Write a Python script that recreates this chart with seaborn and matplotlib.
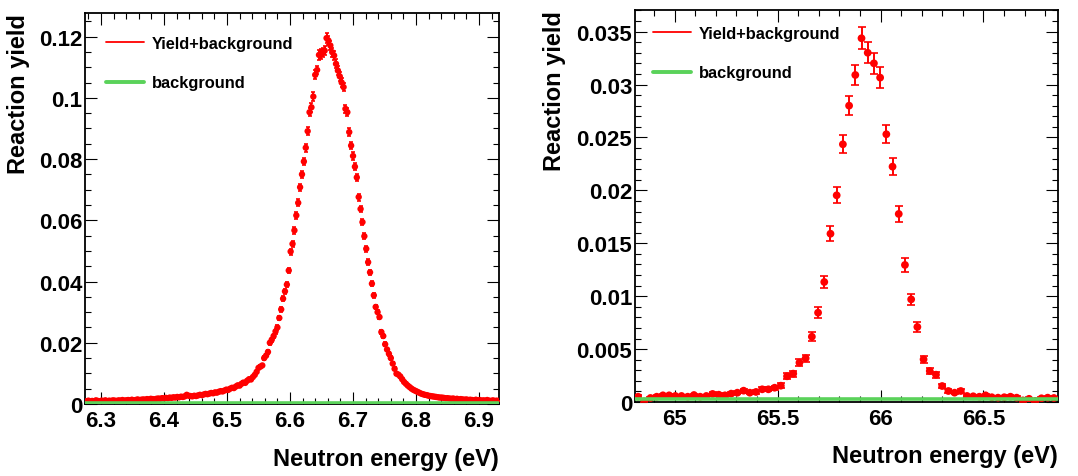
import numpy as np
import pandas as pd
import matplotlib
matplotlib.use("Agg")
import matplotlib.pyplot as plt
from matplotlib.ticker import FixedLocator, MultipleLocator
from matplotlib.lines import Line2D
import seaborn as sns

# ---------------- data: left resonance (~6.67 eV) ----------------
left_e0 = 6.277      # first bin centre (eV)
left_de = 0.003      # bin width (eV)
left_y = [
    0.0009, 0.0011, 0.0008, 0.0010, 0.0009, 0.0012, 0.0010, 0.0009, 0.0011, 0.0010,
    0.0012, 0.0009, 0.0011, 0.0010, 0.0012, 0.0011, 0.0010, 0.0012, 0.0011, 0.0013,
    0.0011, 0.0012, 0.0013, 0.0012, 0.0014, 0.0012, 0.0013, 0.0015, 0.0013, 0.0014,
    0.0015, 0.0014, 0.0016, 0.0015, 0.0017, 0.0016, 0.0015, 0.0017, 0.0018, 0.0017,
    0.0019, 0.0018, 0.0020, 0.0019, 0.0021, 0.0020, 0.0022, 0.0021, 0.0023, 0.0022,
    0.0024, 0.0023, 0.0025, 0.0030, 0.0027, 0.0026, 0.0025, 0.0027, 0.0026, 0.0028,
    0.0030, 0.0029, 0.0031, 0.0033, 0.0032, 0.0034, 0.0036, 0.0035, 0.0038, 0.0037,
    0.0040, 0.0042, 0.0041, 0.0044, 0.0047, 0.0046, 0.0050, 0.0053, 0.0052, 0.0057,
    0.0061, 0.0060, 0.0066, 0.0070, 0.0069, 0.0076, 0.0081, 0.0080, 0.0088, 0.0095,
    0.0105, 0.0118, 0.0122, 0.0126, 0.0150, 0.0158, 0.0170, 0.0200, 0.0210, 0.0222,
    0.0237, 0.0250, 0.0281, 0.0309, 0.0344, 0.0368, 0.0390, 0.0436, 0.0498, 0.0523,
    0.0567, 0.0616, 0.0657, 0.0708, 0.0750, 0.0792, 0.0837, 0.0891, 0.0953, 0.0969,
    0.1004, 0.1075, 0.1091, 0.1140, 0.1143, 0.1148, 0.1154, 0.1195, 0.1187, 0.1171,
    0.1149, 0.1138, 0.1111, 0.1089, 0.1070, 0.1050, 0.1035, 0.0964, 0.0953, 0.0888,
    0.0844, 0.0810, 0.0775, 0.0740, 0.0676, 0.0637, 0.0594, 0.0548, 0.0507, 0.0463,
    0.0430, 0.0393, 0.0355, 0.0317, 0.0300, 0.0284, 0.0235, 0.0222, 0.0195, 0.0178,
    0.0164, 0.0150, 0.0132, 0.0115, 0.0099, 0.0096, 0.0090, 0.0081, 0.0072, 0.0066,
    0.0060, 0.0055, 0.0050, 0.0046, 0.0043, 0.0040, 0.0037, 0.0034, 0.0032, 0.0030,
    0.0029, 0.0027, 0.0026, 0.0025, 0.0024, 0.0023, 0.0022, 0.0021, 0.0021, 0.0020,
    0.0019, 0.0019, 0.0018, 0.0017, 0.0018, 0.0016, 0.0017, 0.0015, 0.0016, 0.0015,
    0.0014, 0.0015, 0.0013, 0.0014, 0.0013, 0.0012, 0.0014, 0.0012, 0.0013, 0.0011,
    0.0012, 0.0011, 0.0013, 0.0011, 0.0010, 0.0012, 0.0010, 0.0011, 0.0010,
]
left_err = [
    0.00014, 0.00015, 0.00013, 0.00014, 0.00013, 0.00015, 0.00014, 0.00013, 0.00015, 0.00014,
    0.00015, 0.00013, 0.00015, 0.00014, 0.00015, 0.00015, 0.00014, 0.00015, 0.00015, 0.00016,
    0.00015, 0.00015, 0.00016, 0.00015, 0.00016, 0.00015, 0.00016, 0.00017, 0.00016, 0.00016,
    0.00017, 0.00016, 0.00018, 0.00017, 0.00018, 0.00018, 0.00017, 0.00018, 0.00019, 0.00018,
    0.00019, 0.00019, 0.00020, 0.00019, 0.00020, 0.00020, 0.00021, 0.00020, 0.00021, 0.00021,
    0.00022, 0.00021, 0.00022, 0.00024, 0.00023, 0.00022, 0.00022, 0.00023, 0.00022, 0.00023,
    0.00024, 0.00024, 0.00025, 0.00025, 0.00025, 0.00026, 0.00026, 0.00026, 0.00027, 0.00027,
    0.00028, 0.00029, 0.00028, 0.00029, 0.00030, 0.00030, 0.00031, 0.00032, 0.00032, 0.00033,
    0.00034, 0.00034, 0.00036, 0.00037, 0.00037, 0.00038, 0.00040, 0.00039, 0.00041, 0.00043,
    0.00045, 0.00048, 0.00049, 0.00049, 0.00054, 0.00055, 0.00057, 0.00062, 0.00064, 0.00066,
    0.00068, 0.00070, 0.00074, 0.00077, 0.00082, 0.00084, 0.00087, 0.00092, 0.00098, 0.00100,
    0.00105, 0.00109, 0.00113, 0.00117, 0.00120, 0.00124, 0.00127, 0.00131, 0.00136, 0.00137,
    0.00139, 0.00144, 0.00145, 0.00149, 0.00149, 0.00149, 0.00150, 0.00152, 0.00152, 0.00151,
    0.00149, 0.00148, 0.00147, 0.00145, 0.00144, 0.00143, 0.00142, 0.00137, 0.00136, 0.00131,
    0.00128, 0.00125, 0.00122, 0.00120, 0.00114, 0.00111, 0.00107, 0.00103, 0.00099, 0.00095,
    0.00091, 0.00087, 0.00083, 0.00078, 0.00076, 0.00074, 0.00067, 0.00066, 0.00061, 0.00059,
    0.00056, 0.00054, 0.00051, 0.00047, 0.00044, 0.00043, 0.00042, 0.00040, 0.00037, 0.00036,
    0.00034, 0.00033, 0.00031, 0.00030, 0.00029, 0.00028, 0.00027, 0.00026, 0.00025, 0.00024,
    0.00024, 0.00023, 0.00022, 0.00022, 0.00022, 0.00021, 0.00021, 0.00020, 0.00020, 0.00020,
    0.00019, 0.00019, 0.00019, 0.00018, 0.00019, 0.00018, 0.00018, 0.00017, 0.00018, 0.00017,
    0.00016, 0.00017, 0.00016, 0.00016, 0.00016, 0.00015, 0.00016, 0.00015, 0.00016, 0.00015,
    0.00015, 0.00015, 0.00016, 0.00015, 0.00014, 0.00015, 0.00014, 0.00015, 0.00014,
]
left_bg_x = [6.2746, 6.9317]
left_bg_y = [0.0003, 0.0003]
left_xlim = (6.2746, 6.9317)
left_ylim = (0.0, 0.1277)
left_xticks = [6.3, 6.4, 6.5, 6.6, 6.7, 6.8, 6.9]
left_xticklabels = ["6.3", "6.4", "6.5", "6.6", "6.7", "6.8", "6.9"]
left_yticks = [0.0, 0.02, 0.04, 0.06, 0.08, 0.10, 0.12]
left_yticklabels = ["0", "0.02", "0.04", "0.06", "0.08", "0.1", "0.12"]

# ---------------- data: right resonance (~65.9 eV) ----------------
right_e0 = 64.822
right_de = 0.03015
right_y = [
    0.00050, 0.00005, 0.00038, 0.00050, 0.00063, 0.00063, 0.00057, 0.00057, 0.00050, 0.00066,
    0.00050, 0.00057, 0.00076, 0.00069, 0.00063, 0.00079, 0.00088, 0.00107, 0.00088, 0.00095,
    0.00120, 0.00120, 0.00135, 0.00154, 0.00243, 0.00268, 0.00372, 0.00413, 0.00617, 0.00844,
    0.01134, 0.01590, 0.01953, 0.02435, 0.02800, 0.03090, 0.03437, 0.03300, 0.03200, 0.03065,
    0.02530, 0.02224, 0.01777, 0.01295, 0.00970, 0.00709, 0.00403, 0.00293, 0.00258, 0.00151,
    0.00104, 0.00088, 0.00104, 0.00057, 0.00054, 0.00050, 0.00063, 0.00045, 0.00041, 0.00045,
    0.00050, 0.00041, 0.00015, 0.00030, 0.00010, 0.00035, 0.00041, 0.00038,
]
right_err = [
    0.00012, 0.00012, 0.00011, 0.00012, 0.00014, 0.00014, 0.00013, 0.00013, 0.00012, 0.00014,
    0.00012, 0.00013, 0.00015, 0.00014, 0.00014, 0.00015, 0.00016, 0.00018, 0.00016, 0.00017,
    0.00019, 0.00019, 0.00020, 0.00022, 0.00027, 0.00028, 0.00034, 0.00035, 0.00043, 0.00050,
    0.00059, 0.00069, 0.00077, 0.00086, 0.00092, 0.00097, 0.00102, 0.00100, 0.00098, 0.00096,
    0.00087, 0.00082, 0.00073, 0.00063, 0.00054, 0.00046, 0.00035, 0.00030, 0.00028, 0.00021,
    0.00018, 0.00016, 0.00018, 0.00013, 0.00013, 0.00012, 0.00014, 0.00012, 0.00011, 0.00012,
    0.00012, 0.00011, 0.00020, 0.00011, 0.00020, 0.00011, 0.00011, 0.00011,
]
right_bg_x = [64.807, 66.862]
right_bg_y = [0.00025, 0.00025]
right_xlim = (64.807, 66.862)
right_ylim = (0.0, 0.03704)
right_xticks = [65.0, 65.5, 66.0, 66.5]
right_xticklabels = ["65", "65.5", "66", "66.5"]
right_yticks = [0.0, 0.005, 0.01, 0.015, 0.02, 0.025, 0.03, 0.035]
right_yticklabels = ["0", "0.005", "0.01", "0.015", "0.02", "0.025", "0.03", "0.035"]

legend_labels = ["Yield+background", "background"]
x_title = "Neutron energy (eV)"
y_title = "Reaction yield"

# ---------------- style ----------------
sns.set_theme(style="white")
plt.rcParams["font.family"] = ["Liberation Sans", "DejaVu Sans"]
plt.rcParams["font.weight"] = "bold"
plt.rcParams["axes.labelweight"] = "bold"
plt.rcParams["text.color"] = "black"
plt.rcParams["axes.labelcolor"] = "black"
plt.rcParams["xtick.color"] = "black"
plt.rcParams["ytick.color"] = "black"
plt.rcParams["xtick.labelcolor"] = "black"
plt.rcParams["ytick.labelcolor"] = "black"

RED = "#ff0000"
GREEN = "#5ad25a"

fig = plt.figure(figsize=(10.78, 4.77), dpi=100)
fig.patch.set_facecolor("white")
axL = fig.add_axes([85 / 1078, (477 - 405) / 477, 414 / 1078, 391 / 477])
axR = fig.add_axes([635 / 1078, (477 - 403) / 477, 423 / 1078, 392 / 477])


def panel(ax, e0, de, y, err, bgx, bgy, ms, cap, xlim, ylim, xt, xtl, yt, ytl,
          xminor, yminor, leg_anchor, ylab_x, xlab_y):
    n = len(y)
    x = e0 + de * np.arange(n)
    df = pd.DataFrame({"E": x, "Y": y, "err": err})
    ax.errorbar(df["E"], df["Y"], yerr=df["err"], fmt="none", ecolor=RED,
                elinewidth=1.4, capsize=cap, capthick=1.2, zorder=3)
    sns.scatterplot(data=df, x="E", y="Y", ax=ax, color=RED, s=ms ** 2,
                    edgecolor="none", linewidth=0, zorder=4, legend=False)
    bg = pd.DataFrame({"E": bgx, "B": bgy})
    sns.lineplot(data=bg, x="E", y="B", ax=ax, color=GREEN, lw=2.6,
                 zorder=5, legend=False)
    ax.set_xlim(*xlim)
    ax.set_ylim(*ylim)
    ax.xaxis.set_major_locator(FixedLocator(xt))
    ax.set_xticklabels(xtl)
    ax.yaxis.set_major_locator(FixedLocator(yt))
    ax.set_yticklabels(ytl)
    ax.xaxis.set_minor_locator(MultipleLocator(xminor))
    ax.yaxis.set_minor_locator(MultipleLocator(yminor))
    ax.tick_params(axis="both", which="both", direction="in", top=True,
                   right=True, bottom=True, left=True, color="black", width=0.8)
    ax.tick_params(axis="both", which="major", length=8.5, labelsize=16,
                   labelcolor="black")
    ax.tick_params(axis="both", which="minor", length=4.5)
    ax.tick_params(axis="x", which="major", pad=4.5)
    ax.tick_params(axis="y", which="major", pad=2.0)
    for lab in ax.get_xticklabels() + ax.get_yticklabels():
        lab.set_fontweight("bold")
        lab.set_color("black")
    for sp in ax.spines.values():
        sp.set_color("black")
        sp.set_linewidth(1.3)
        sp.set_visible(True)
    ax.set_xlabel(x_title, fontsize=17, fontweight="bold", loc="right", color="black")
    ax.xaxis.set_label_coords(1.0, xlab_y)
    ax.set_ylabel(y_title, fontsize=17, fontweight="bold", loc="top", color="black")
    ax.yaxis.set_label_coords(ylab_x, 1.0)
    handles = [Line2D([], [], color=RED, lw=1.3),
               Line2D([], [], color=GREEN, lw=2.8)]
    leg = ax.legend(handles, legend_labels, loc="upper left", bbox_to_anchor=leg_anchor,
                    frameon=False, prop={"size": 11.8, "weight": "bold"},
                    handlelength=2.3, handletextpad=0.5, labelspacing=1.5,
                    borderaxespad=0.0, borderpad=0.0)
    for t in leg.get_texts():
        t.set_color("black")


panel(axL, left_e0, left_de, left_y, left_err, left_bg_x, left_bg_y, 4.6, 1.6,
      left_xlim, left_ylim, left_xticks, left_xticklabels, left_yticks,
      left_yticklabels, 0.02, 0.005, (0.0507, 0.9417), -0.133, -0.110)
panel(axR, right_e0, right_de, right_y, right_err, right_bg_x, right_bg_y, 5.6, 2.6,
      right_xlim, right_ylim, right_xticks, right_xticklabels, right_yticks,
      right_yticklabels, 0.1, 0.001, (0.0426, 0.9597), -0.163, -0.107)

fig.savefig("out.png", dpi=100, facecolor="white")
